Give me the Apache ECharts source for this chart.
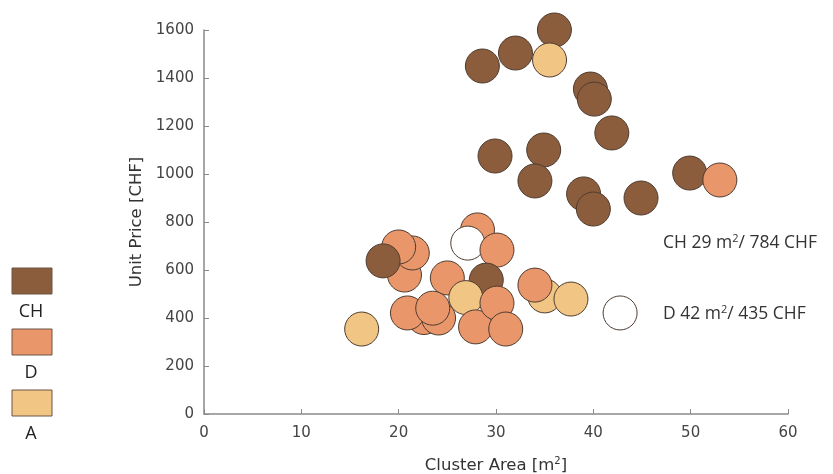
<!DOCTYPE html>
<html>
<head>
    <meta charset="utf-8">
    <title>Cluster Area vs Unit Price</title>
    <script src="https://cdn.jsdelivr.net/npm/echarts@6/dist/echarts.min.js"></script>
    <style>
        html, body { margin: 0; padding: 0; background: #fff; }
    </style>
</head>
<body>
    <div id="main" style="width: 833px;height:474px;"></div>
    <script type="text/javascript">
        // data, in drawing order (later points sit on top)
        var area = [36.0, 35.5, 32.0, 28.6, 39.7, 40.1, 41.9, 29.9, 34.9, 34.0, 39.0, 40.0, 44.9, 49.9, 53.0,
                    20.6, 21.4, 20.0, 18.4, 28.1, 27.1, 30.1, 25.0, 29.0,
                    22.6, 24.1, 20.9, 23.5, 26.9, 27.9, 30.1, 31.0,
                    35.0, 34.0, 37.7, 16.2, 42.75];
        var price = [1600, 1475, 1504, 1450, 1354, 1312, 1171, 1075, 1100, 971, 917, 854, 900, 1004, 975,
                     579, 671, 696, 638, 767, 712, 683, 567, 558,
                     402, 400, 421, 441, 485, 363, 462, 354,
                     492, 537, 479, 354, 421];
        var origin = ['CH', 'A', 'CH', 'CH', 'CH', 'CH', 'CH', 'CH', 'CH', 'CH', 'CH', 'CH', 'CH', 'CH', 'D',
                      'D', 'D', 'D', 'CH', 'D', 'X', 'D', 'D', 'CH',
                      'D', 'D', 'D', 'D', 'A', 'D', 'D', 'D',
                      'A', 'D', 'A', 'A', 'X'];

        var groups = ['CH', 'D', 'A'];
        var groupColors = { CH: '#8b5d3d', D: '#e9966b', A: '#f1c684', X: '#ffffff' };
        var notes = ['CH 29 m{sup|2}/ 784 CHF', 'D 42 m{sup|2}/ 435 CHF'];

        var points = [];
        for (var i = 0; i < area.length; i++) {
            points.push({ value: [area[i], price[i]], itemStyle: { color: groupColors[origin[i]] } });
        }

        // hand-made legend: square above its label
        var extras = [];
        for (var g = 0; g < groups.length; g++) {
            var boxY = 268 + g * 61;
            extras.push({
                type: 'rect',
                shape: { x: 12, y: boxY, width: 40, height: 26 },
                style: { fill: groupColors[groups[g]], stroke: '#6e5444', lineWidth: 1 }
            });
            extras.push({
                type: 'text',
                x: 31, y: boxY + 44,
                style: { text: groups[g], fontFamily: 'Open Sans', fontSize: 18, fill: '#222', align: 'center', verticalAlign: 'middle' }
            });
        }

        for (var n = 0; n < notes.length; n++) {
            extras.push({
                type: 'text',
                x: 663, y: n === 0 ? 243 : 314,
                style: {
                    text: notes[n], fontFamily: 'Open Sans', fontSize: 17.5, fill: '#333', verticalAlign: 'middle',
                    rich: { sup: { fontSize: 11, fontFamily: 'Open Sans', verticalAlign: 'top', padding: [0, 0, 9, 0], fill: '#333' } }
                }
            });
        }

        var myChart = echarts.init(document.getElementById('main'));

        var axisColor = '#8a8a8a';
        var option = {
            backgroundColor: '#fff',
            animation: false,
            grid: { left: 204, top: 30, width: 584, height: 384, outerBoundsMode: 'none', containLabel: false },
            xAxis: {
                type: 'value', min: 0, max: 60, interval: 10,
                name: 'Cluster Area [m{sup|2}]',
                nameLocation: 'middle', nameGap: 42,
                nameTextStyle: { fontFamily: 'DejaVu Sans', fontSize: 16.5, color: '#333',
                    rich: { sup: { fontFamily: 'DejaVu Sans', fontSize: 10, color: '#333', verticalAlign: 'top', padding: [0, 0, 9, 0] } } },
                axisLine: { lineStyle: { color: axisColor, width: 1.5 } },
                axisTick: { inside: true, length: 5, lineStyle: { color: axisColor } },
                axisLabel: { fontFamily: 'DejaVu Sans', fontSize: 15, color: '#444', margin: 12 },
                splitLine: { show: false }
            },
            yAxis: {
                type: 'value', min: 0, max: 1600, interval: 200,
                name: 'Unit Price [CHF]',
                nameLocation: 'middle', nameGap: 56,
                nameTextStyle: { fontFamily: 'DejaVu Sans', fontSize: 16.5, color: '#333' },
                axisLine: { show: true, lineStyle: { color: axisColor, width: 1.5 } },
                axisTick: { show: true, inside: true, length: 5, lineStyle: { color: axisColor } },
                axisLabel: {
                    fontFamily: 'DejaVu Sans', fontSize: 15, color: '#444', margin: 10,
                    formatter: function (v) { return String(v); }
                },
                splitLine: { show: false }
            },
            series: [{
                type: 'scatter',
                symbolSize: 34,
                itemStyle: { borderColor: '#4e3c30', borderWidth: 1, opacity: 1 },
                data: points
            }],
            graphic: extras
        };

        myChart.setOption(option);
    </script>
</body>
</html>
